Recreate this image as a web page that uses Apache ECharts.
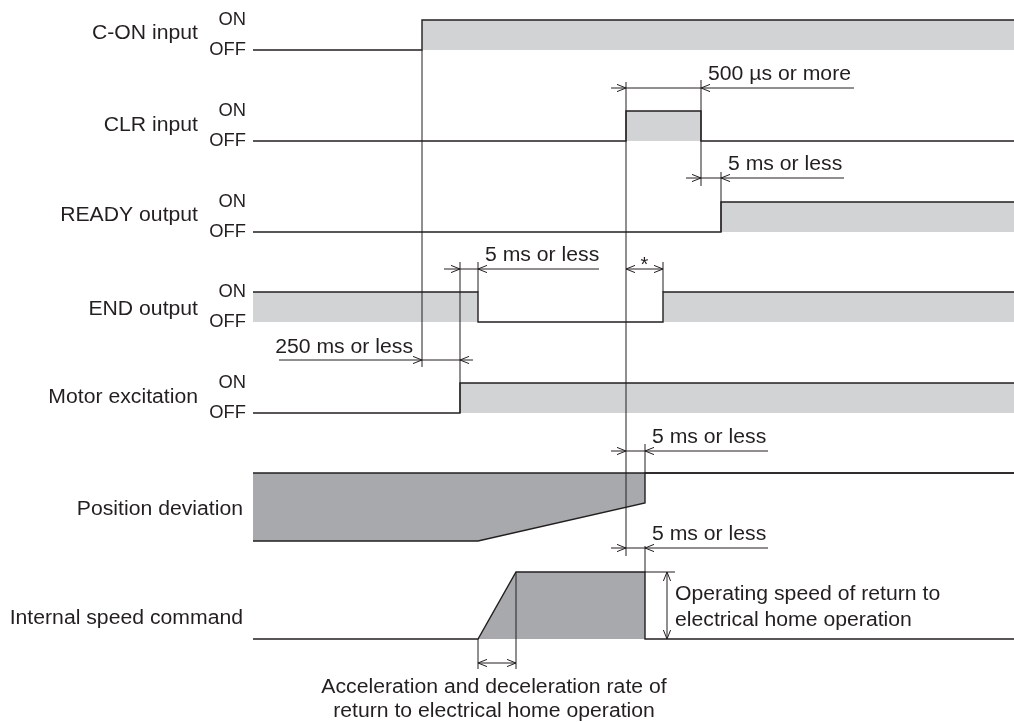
<!DOCTYPE html>
<html>
<head>
<meta charset="utf-8">
<script src="https://cdn.jsdelivr.net/npm/echarts@6/dist/echarts.min.js"></script>
<style>
html,body{margin:0;padding:0;background:#ffffff;}
#c{width:1014px;height:722px;}
</style>
</head>
<body>
<div id="c"></div>
<script>
// ---------------- data ----------------
const rowNames = ['C-ON input', 'CLR input', 'READY output', 'END output', 'Motor excitation', 'Position deviation', 'Internal speed command'];
const levelNames = ['ON', 'OFF'];
const timeStart = 253, timeEnd = 1014;
// digital signals: [time, level] (1 = ON, 0 = OFF), level holds until next point
const cOnInput = [[253, 0], [422, 1]];
const clrInput = [[253, 0], [626, 1], [701, 0]];
const readyOutput = [[253, 0], [721, 1]];
const endOutput = [[253, 1], [478, 0], [663, 1]];
const motorExcitation = [[253, 0], [460, 1]];
// analog signals: [time, relative magnitude]
const positionDeviation = [[253, 1], [478, 1], [645, 0.44], [645, 0], [1014, 0]];
const speedCommand = [[253, 0], [478, 0], [516, 1], [645, 1], [645, 0], [1014, 0]];
const timingTexts = ['500 µs or more', '5 ms or less', '5 ms or less', '*', '250 ms or less', '5 ms or less', '5 ms or less'];
const speedNote = ['Operating speed of return to', 'electrical home operation'];
const accelNote = ['Acceleration and deceleration rate of', 'return to electrical home operation'];

// ---------------- layout / style ----------------
const digitalSignals = [cOnInput, clrInput, readyOutput, endOutput, motorExcitation];
const rowOff = [50, 141, 232, 322, 413];
const swing = 30;
const devZero = 473, devSwing = 68;
const spdBase = 639, spdSwing = 67;
const lineColor = '#231f20';
const lightFill = '#d1d3d4';
const darkFill = '#a7a9ac';
const textColor = '#231f20';
const FONT = '"Liberation Sans", Arial, Helvetica, sans-serif';

const tCOn = cOnInput[1][0];
const tClrOn = clrInput[1][0], tClrOff = clrInput[2][0];
const tReady = readyOutput[1][0];
const tEndOff = endOutput[1][0], tEndOn = endOutput[2][0];
const tMotor = motorExcitation[1][0];
const tDevEnd = positionDeviation[2][0];
const tAccStart = speedCommand[1][0], tAccEnd = speedCommand[2][0], tSpdEnd = speedCommand[4][0];

const dims = [
  {a: tClrOn, b: tClrOff, y: 88, kind: 'in', tailL: 15, tailR: 153, text: 0, side: 'right'},
  {a: tClrOff, b: tReady, y: 178, kind: 'in', tailL: 15, tailR: 123, text: 1, side: 'right'},
  {a: tMotor, b: tEndOff, y: 269, kind: 'in', tailL: 16, tailR: 121, text: 2, side: 'right'},
  {a: tClrOn, b: tEndOn, y: 269, kind: 'out', text: 3, side: 'mid'},
  {a: tCOn, b: tMotor, y: 360, kind: 'in', tailL: 143, tailR: 13, text: 4, side: 'left'},
  {a: tClrOn, b: tDevEnd, y: 451, kind: 'in', tailL: 15, tailR: 123, text: 5, side: 'right'},
  {a: tClrOn, b: tSpdEnd, y: 548, kind: 'in', tailL: 15, tailR: 123, text: 6, side: 'right'},
  {a: tAccStart, b: tAccEnd, y: 663, kind: 'out', text: -1}
];
const extensions = [
  {t: tCOn, y1: 50, y2: 367},
  {t: tClrOn, y1: 82, y2: 556},
  {t: tClrOff, y1: 80, y2: 186},
  {t: tReady, y1: 172, y2: 232},
  {t: tMotor, y1: 262, y2: 413},
  {t: tEndOff, y1: 262, y2: 292},
  {t: tEndOn, y1: 262, y2: 292},
  {t: tDevEnd, y1: 444, y2: 473},
  {t: tSpdEnd, y1: 546, y2: 572},
  {t: tAccStart, y1: 639, y2: 669},
  {t: tAccEnd, y1: 572, y2: 669}
];
const speedArrowX = tSpdEnd + 22;

// ---------------- helpers ----------------
function C(api, t, y) { return api.coord([t, y]); }
function pl(points, w, color) {
  return {type: 'polyline', shape: {points: points}, style: {stroke: color || lineColor, lineWidth: w || 1, fill: null}};
}
function pg(points, fill) {
  return {type: 'polygon', shape: {points: points}, style: {fill: fill, stroke: null}};
}
function txt(p, text, size, align, sx) {
  return {
    type: 'text', x: p[0], y: p[1], scaleX: sx || 1.06, scaleY: 1,
    style: {text: text, x: 0, y: 0, fill: textColor, fontSize: size, fontFamily: FONT, align: align, verticalAlign: 'middle'}
  };
}
const AL = 9, AH = 3.6;
function arrowH(p, dir) { // tip at p, dir +1 points right
  return pl([[p[0] - dir * AL, p[1] - AH], p, [p[0] - dir * AL, p[1] + AH]], 1);
}
function arrowV(p, dir) { // dir -1 points up
  return pl([[p[0] - AH, p[1] - dir * AL], p, [p[0] + AH, p[1] - dir * AL]], 1);
}

// ---------------- render functions ----------------
function renderDigital(params, api) {
  const i = api.value(0);
  const steps = digitalSignals[i];
  const off = rowOff[i], on = off - swing;
  const lv = l => (l ? on : off);
  const pts = [], fills = [];
  for (let k = 0; k < steps.length; k++) {
    const t = steps[k][0], l = steps[k][1];
    const tNext = k + 1 < steps.length ? steps[k + 1][0] : timeEnd;
    if (k > 0) pts.push(C(api, t, lv(steps[k - 1][1])));
    pts.push(C(api, t, lv(l)));
    if (l) fills.push(pg([C(api, t, on), C(api, tNext, on), C(api, tNext, off), C(api, t, off)], lightFill));
  }
  pts.push(C(api, timeEnd, lv(steps[steps.length - 1][1])));
  return {type: 'group', children: fills.concat([pl(pts, 1.4)])};
}

function renderAnalog(params, api) {
  const i = api.value(0);
  if (i === 0) {
    const pts = positionDeviation.map(d => C(api, d[0], devZero + d[1] * devSwing));
    return {type: 'group', children: [
      pg([C(api, timeStart, devZero)].concat(pts), darkFill),
      pl(pts, 1.4),
      pl([C(api, timeStart, devZero), C(api, timeEnd, devZero)], 1.4)
    ]};
  }
  const pts = speedCommand.map(d => C(api, d[0], spdBase - d[1] * spdSwing));
  return {type: 'group', children: [pg(pts, darkFill), pl(pts, 1.4)]};
}

function renderAnnotations(params, api) {
  const ch = [];
  extensions.forEach(e => ch.push(pl([C(api, e.t, e.y1), C(api, e.t, e.y2)], 1)));
  dims.forEach(d => {
    const pa = C(api, d.a, d.y), pb = C(api, d.b, d.y);
    if (d.kind === 'in') {
      ch.push(pl([C(api, d.a - d.tailL, d.y), C(api, d.b + d.tailR, d.y)], 1));
      ch.push(arrowH(pa, 1));
      ch.push(arrowH(pb, -1));
    } else {
      ch.push(pl([pa, pb], 1));
      ch.push(arrowH(pa, -1));
      ch.push(arrowH(pb, 1));
    }
    if (d.text >= 0) {
      const s = timingTexts[d.text];
      if (d.side === 'right') ch.push(txt(C(api, d.b + 7, d.y - 13.5), s, 20, 'left'));
      else if (d.side === 'left') ch.push(txt(C(api, d.a - 9, d.y - 12.5), s, 20, 'right'));
      else ch.push(txt(C(api, (d.a + d.b) / 2, d.y - 4), s, 20, 'center', 1));
    }
  });
  // operating speed vertical dimension
  ch.push(pl([C(api, tSpdEnd, spdBase - spdSwing), C(api, speedArrowX + 8, spdBase - spdSwing)], 1));
  const top = C(api, speedArrowX, spdBase - spdSwing), bot = C(api, speedArrowX, spdBase);
  ch.push(pl([top, bot], 1));
  ch.push(arrowV(top, -1));
  ch.push(arrowV(bot, 1));
  ch.push(txt(C(api, speedArrowX + 8, 594), speedNote[0], 20, 'left'));
  ch.push(txt(C(api, speedArrowX + 8, 620), speedNote[1], 20, 'left'));
  const mid = (tAccStart + tAccEnd) / 2 - 3;
  ch.push(txt(C(api, mid, 687.5), accelNote[0], 20, 'center'));
  ch.push(txt(C(api, mid, 711.5), accelNote[1], 20, 'center'));
  return {type: 'group', children: ch};
}

const labelY = [33.5, 125, 215, 309, 397, 509, 618];
const labelX = [198, 198, 198, 198, 198, 243, 243];
function renderLabels(params, api) {
  const ch = [];
  rowNames.forEach((n, i) => {
    ch.push(txt(C(api, labelX[i], labelY[i]), n, 20, 'right'));
    if (i < 5) {
      ch.push(txt(C(api, 246, rowOff[i] - swing + 0.5), levelNames[0], 18, 'right', 1.02));
      ch.push(txt(C(api, 246, rowOff[i]), levelNames[1], 18, 'right', 1.02));
    }
  });
  return {type: 'group', children: ch};
}

// ---------------- chart ----------------
const chart = echarts.init(document.getElementById('c'), null, {renderer: 'canvas'});
chart.setOption({
  backgroundColor: '#ffffff',
  animation: false,
  grid: {left: 0, right: 0, top: 0, bottom: 0},
  xAxis: {type: 'value', min: 0, max: 1014, show: false},
  yAxis: {type: 'value', min: 0, max: 722, inverse: true, show: false},
  series: [
    {type: 'custom', name: 'digital', z: 2, silent: true, renderItem: renderDigital, data: digitalSignals.map((s, i) => [i, 0])},
    {type: 'custom', name: 'analog', z: 2, silent: true, renderItem: renderAnalog, data: [[0, 0], [1, 0]]},
    {type: 'custom', name: 'annotations', z: 3, silent: true, renderItem: renderAnnotations, data: [[0, 0]]},
    {type: 'custom', name: 'labels', z: 3, silent: true, renderItem: renderLabels, data: [[0, 0]]}
  ]
});
</script>
</body>
</html>
